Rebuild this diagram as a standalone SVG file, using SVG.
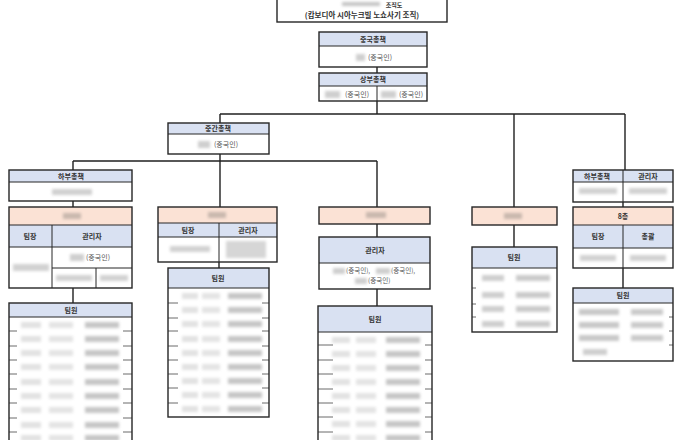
<svg xmlns="http://www.w3.org/2000/svg" xmlns:xlink="http://www.w3.org/1999/xlink" width="686" height="440" viewBox="0 0 686 440">
<style>
.bx{fill:none;stroke:#262626;stroke-width:1.4}
.bg{fill:#fff}
.hd{fill:#d9e1f2}
.pe{fill:#fbe2d5}
.ln{stroke:#262626;stroke-width:1}
.t{font-family:"Noto Sans CJK KR","Noto Sans",sans-serif;font-size:7px;font-weight:bold;fill:#333;text-anchor:middle}
.n{font-weight:normal;fill:#555}
.s{text-anchor:start;font-size:6.5px}
.tk{stroke:#444;stroke-width:0.8}
#connectors line{stroke:#1f1f1f;stroke-width:1.4}
</style>
<defs>
<filter id="bl" x="-30%" y="-100%" width="160%" height="300%"><feGaussianBlur stdDeviation="1.6"/></filter>
<g id="rowL" filter="url(#bl)"><rect x="12" y="-3" width="20" height="6" fill="#e2e2e2"/><rect x="40" y="-3" width="24" height="6" fill="#e4e4e4"/><rect x="76" y="-3" width="34" height="6" fill="#c6c6c6"/></g>
<g id="rowM" filter="url(#bl)"><rect x="14" y="-3" width="16" height="6" fill="#e2e2e2"/><rect x="34" y="-3" width="18" height="6" fill="#e4e4e4"/><rect x="60" y="-3" width="34" height="6" fill="#c6c6c6"/></g>
<g id="rowC" filter="url(#bl)"><rect x="14" y="-3" width="18" height="6" fill="#e2e2e2"/><rect x="38" y="-3" width="20" height="6" fill="#e4e4e4"/><rect x="68" y="-3" width="34" height="6" fill="#c6c6c6"/></g>
<g id="rowD" filter="url(#bl)"><rect x="10" y="-3" width="22" height="6" fill="#cfcfcf"/><rect x="44" y="-3" width="34" height="6" fill="#cbcbcb"/></g>
<g id="rowE" filter="url(#bl)"><rect x="6" y="-3" width="40" height="6" fill="#c8c8c8"/><rect x="58" y="-3" width="32" height="6" fill="#cbcbcb"/></g>
</defs>
<rect width="686" height="440" fill="#fff"/>

<g id="connectors">
<line x1="377" y1="67" x2="377" y2="73"/>
<line x1="377" y1="101" x2="377" y2="114"/>
<line x1="220" y1="114" x2="625" y2="114"/>
<line x1="220" y1="114" x2="220" y2="123"/>
<line x1="220" y1="154" x2="220" y2="207"/>
<line x1="73" y1="161" x2="377" y2="161"/>
<line x1="73" y1="161" x2="73" y2="170"/>
<line x1="377" y1="161" x2="377" y2="207"/>
<line x1="514" y1="114" x2="514" y2="207"/>
<line x1="625" y1="114" x2="625" y2="170"/>
<line x1="73" y1="201" x2="73" y2="207"/>
<line x1="73" y1="288" x2="73" y2="303"/>
<line x1="219" y1="262" x2="219" y2="268"/>
<line x1="377" y1="224" x2="377" y2="237"/>
<line x1="377" y1="289" x2="377" y2="306"/>
<line x1="514" y1="225" x2="514" y2="247"/>
<line x1="623" y1="202" x2="623" y2="207"/>
<line x1="623" y1="268" x2="623" y2="288"/>
</g>

<g id="title">
<rect class="bg" x="277" y="-5" width="170" height="27"/>
<rect x="342" y="2" width="38" height="4" fill="#c4c4c4" filter="url(#bl)"/>
<text class="t" x="394" y="7" style="font-size:6px">조직도</text>
<text class="t" x="362" y="18" style="font-size:7.5px">(캄보디아 시아누크빌 노쇼사기 조직)</text>
<rect class="bx" x="277" y="-5" width="170" height="27"/>
</g>

<g id="china">
<rect class="bg" x="319" y="32" width="108" height="35"/>
<rect class="hd" x="319" y="32" width="108" height="14"/>
<line class="ln" x1="319" y1="46" x2="427" y2="46"/>
<text class="t" x="373" y="42">중국총책</text>
<rect x="356" y="54" width="9" height="7" fill="#cfcfcf" filter="url(#bl)"/>
<text class="t n" x="380" y="60">(중국인)</text>
<rect class="bx" x="319" y="32" width="108" height="35"/>
</g>

<g id="upper">
<rect class="bg" x="319" y="73" width="108" height="28"/>
<rect class="hd" x="319" y="73" width="108" height="13"/>
<line class="ln" x1="319" y1="86" x2="427" y2="86"/>
<line class="ln" x1="377" y1="86" x2="377" y2="101"/>
<text class="t" x="373" y="82">상부총책</text>
<rect x="325" y="91" width="15" height="7" fill="#cfcfcf" filter="url(#bl)"/>
<text class="t n" x="357" y="97">(중국인)</text>
<rect x="381" y="91" width="15" height="7" fill="#cfcfcf" filter="url(#bl)"/>
<text class="t n" x="411" y="97">(중국인)</text>
<rect class="bx" x="319" y="73" width="108" height="28"/>
</g>

<g id="middle">
<rect class="bg" x="168" y="123" width="101" height="31"/>
<rect class="hd" x="168" y="123" width="101" height="11"/>
<line class="ln" x1="168" y1="134" x2="269" y2="134"/>
<text class="t" x="218" y="131">중간총책</text>
<rect x="198" y="141" width="12" height="7" fill="#cfcfcf" filter="url(#bl)"/>
<text class="t n" x="226" y="147">(중국인)</text>
<rect class="bx" x="168" y="123" width="101" height="31"/>
</g>

<g id="lower1">
<rect class="bg" x="9" y="170" width="123" height="31"/>
<rect class="hd" x="9" y="170" width="123" height="12"/>
<line class="ln" x1="9" y1="182" x2="132" y2="182"/>
<text class="t" x="71" y="179">하부총책</text>
<rect x="52" y="189" width="40" height="6" fill="#d0d0d0" filter="url(#bl)"/>
<rect class="bx" x="9" y="170" width="123" height="31"/>
</g>

<g id="team1">
<rect class="bg" x="9" y="207" width="123" height="81"/>
<rect class="pe" x="9" y="207" width="123" height="18"/>
<rect class="hd" x="9" y="225" width="123" height="22"/>
<line class="ln" x1="9" y1="225" x2="132" y2="225"/>
<line class="ln" x1="9" y1="247" x2="132" y2="247"/>
<line class="ln" x1="52" y1="225" x2="52" y2="288"/>
<line class="ln" x1="52" y1="268" x2="132" y2="268"/>
<line class="ln" x1="96" y1="268" x2="96" y2="288"/>
<rect x="63" y="213" width="18" height="6" fill="#c9b8ae" filter="url(#bl)"/>
<text class="t" x="30" y="239">팀장</text>
<text class="t" x="92" y="239">관리자</text>
<rect x="13" y="264" width="36" height="7" fill="#d2d2d2" filter="url(#bl)"/>
<rect x="70" y="254" width="14" height="7" fill="#cfcfcf" filter="url(#bl)"/>
<text class="t n" x="98" y="260">(중국인)</text>
<rect x="56" y="275" width="36" height="6" fill="#d2d2d2" filter="url(#bl)"/>
<rect x="100" y="275" width="28" height="6" fill="#d2d2d2" filter="url(#bl)"/>
<rect class="bx" x="9" y="207" width="123" height="81"/>
</g>

<g id="members1">
<rect class="bg" x="9" y="303" width="123" height="150"/>
<rect class="hd" x="9" y="303" width="123" height="14"/>
<line class="ln" x1="9" y1="317" x2="132" y2="317"/>
<text class="t" x="71" y="313">팀원</text>
<use xlink:href="#rowL" x="9" y="325"/><use xlink:href="#rowL" x="9" y="339"/><use xlink:href="#rowL" x="9" y="353"/><use xlink:href="#rowL" x="9" y="367"/><use xlink:href="#rowL" x="9" y="382"/><use xlink:href="#rowL" x="9" y="396"/><use xlink:href="#rowL" x="9" y="410"/><use xlink:href="#rowL" x="9" y="425"/><use xlink:href="#rowL" x="9" y="438"/>
<g class="tk">
<line x1="9" y1="331" x2="17" y2="331"/><line x1="9" y1="346" x2="17" y2="346"/><line x1="9" y1="360" x2="17" y2="360"/><line x1="9" y1="374" x2="17" y2="374"/><line x1="9" y1="389" x2="17" y2="389"/><line x1="9" y1="403" x2="17" y2="403"/><line x1="9" y1="418" x2="17" y2="418"/><line x1="9" y1="432" x2="17" y2="432"/>
<line x1="123" y1="331" x2="132" y2="331"/><line x1="123" y1="346" x2="132" y2="346"/><line x1="123" y1="360" x2="132" y2="360"/><line x1="123" y1="374" x2="132" y2="374"/><line x1="123" y1="389" x2="132" y2="389"/><line x1="123" y1="403" x2="132" y2="403"/><line x1="123" y1="418" x2="132" y2="418"/><line x1="123" y1="432" x2="132" y2="432"/>
</g>
<rect class="bx" x="9" y="303" width="123" height="150"/>
</g>

<g id="team2">
<rect class="bg" x="158" y="207" width="119" height="55"/>
<rect class="pe" x="158" y="207" width="119" height="16"/>
<rect class="hd" x="158" y="223" width="119" height="14"/>
<line class="ln" x1="158" y1="223" x2="277" y2="223"/>
<line class="ln" x1="158" y1="237" x2="277" y2="237"/>
<line class="ln" x1="219" y1="223" x2="219" y2="262"/>
<rect x="208" y="212" width="18" height="6" fill="#c9b8ae" filter="url(#bl)"/>
<text class="t" x="188" y="233">팀장</text>
<text class="t" x="248" y="233">관리자</text>
<rect x="170" y="246" width="40" height="6" fill="#d2d2d2" filter="url(#bl)"/>
<rect x="226" y="241" width="40" height="17" fill="#d6d6d6" filter="url(#bl)"/>
<rect class="bx" x="158" y="207" width="119" height="55"/>
</g>

<g id="members2">
<rect class="bg" x="168" y="268" width="101" height="149"/>
<rect class="hd" x="168" y="268" width="101" height="20"/>
<line class="ln" x1="168" y1="288" x2="269" y2="288"/>
<text class="t" x="218" y="281">팀원</text>
<use xlink:href="#rowM" x="168" y="296"/><use xlink:href="#rowM" x="168" y="310"/><use xlink:href="#rowM" x="168" y="324"/><use xlink:href="#rowM" x="168" y="339"/><use xlink:href="#rowM" x="168" y="353"/><use xlink:href="#rowM" x="168" y="367"/><use xlink:href="#rowM" x="168" y="381"/><use xlink:href="#rowM" x="168" y="395"/><use xlink:href="#rowM" x="168" y="409"/>
<g class="tk">
<line x1="168" y1="303" x2="178" y2="303"/><line x1="168" y1="318" x2="178" y2="318"/><line x1="168" y1="331" x2="178" y2="331"/><line x1="168" y1="346" x2="178" y2="346"/><line x1="168" y1="360" x2="178" y2="360"/><line x1="168" y1="374" x2="178" y2="374"/><line x1="168" y1="388" x2="178" y2="388"/><line x1="168" y1="403" x2="178" y2="403"/>
<line x1="262" y1="303" x2="269" y2="303"/><line x1="262" y1="318" x2="269" y2="318"/><line x1="262" y1="331" x2="269" y2="331"/><line x1="262" y1="346" x2="269" y2="346"/><line x1="262" y1="360" x2="269" y2="360"/><line x1="262" y1="374" x2="269" y2="374"/><line x1="262" y1="388" x2="269" y2="388"/><line x1="262" y1="403" x2="269" y2="403"/>
</g>
<rect class="bx" x="168" y="268" width="101" height="149"/>
</g>

<g id="team3">
<rect class="pe" x="319" y="207" width="111" height="17"/>
<rect x="366" y="212" width="20" height="6" fill="#c9b8ae" filter="url(#bl)"/>
<rect class="bx" x="319" y="207" width="111" height="17"/>
</g>

<g id="manager3">
<rect class="bg" x="319" y="237" width="111" height="52"/>
<rect class="hd" x="319" y="237" width="111" height="26"/>
<line class="ln" x1="319" y1="263" x2="430" y2="263"/>
<text class="t" x="375" y="253">관리자</text>
<rect x="333" y="268" width="12" height="6" fill="#cfcfcf" filter="url(#bl)"/>
<text class="t n s" x="346" y="273">(중국인),</text>
<rect x="376" y="268" width="14" height="6" fill="#cfcfcf" filter="url(#bl)"/>
<text class="t n s" x="391" y="273">(중국인),</text>
<rect x="355" y="278" width="12" height="6" fill="#cfcfcf" filter="url(#bl)"/>
<text class="t n s" x="368" y="283">(중국인)</text>
<rect class="bx" x="319" y="237" width="111" height="52"/>
</g>

<g id="members3">
<rect class="bg" x="318" y="306" width="114" height="150"/>
<rect class="hd" x="318" y="306" width="114" height="26"/>
<line class="ln" x1="318" y1="332" x2="432" y2="332"/>
<text class="t" x="375" y="322">팀원</text>
<use xlink:href="#rowC" x="318" y="340"/><use xlink:href="#rowC" x="318" y="354"/><use xlink:href="#rowC" x="318" y="368"/><use xlink:href="#rowC" x="318" y="382"/><use xlink:href="#rowC" x="318" y="396"/><use xlink:href="#rowC" x="318" y="410"/><use xlink:href="#rowC" x="318" y="424"/><use xlink:href="#rowC" x="318" y="438"/>
<g class="tk">
<line x1="318" y1="345" x2="333" y2="345"/><line x1="318" y1="360" x2="333" y2="360"/><line x1="318" y1="374" x2="333" y2="374"/><line x1="318" y1="389" x2="333" y2="389"/><line x1="318" y1="403" x2="333" y2="403"/><line x1="318" y1="417" x2="333" y2="417"/><line x1="318" y1="432" x2="333" y2="432"/>
<line x1="425" y1="345" x2="432" y2="345"/><line x1="425" y1="360" x2="432" y2="360"/><line x1="425" y1="374" x2="432" y2="374"/><line x1="425" y1="389" x2="432" y2="389"/><line x1="425" y1="403" x2="432" y2="403"/><line x1="425" y1="417" x2="432" y2="417"/><line x1="425" y1="432" x2="432" y2="432"/>
</g>
<rect class="bx" x="318" y="306" width="114" height="150"/>
</g>

<g id="team4">
<rect class="pe" x="472" y="207" width="85" height="18"/>
<rect x="504" y="213" width="18" height="6" fill="#c9b8ae" filter="url(#bl)"/>
<rect class="bx" x="472" y="207" width="85" height="18"/>
</g>

<g id="members4">
<rect class="bg" x="472" y="247" width="85" height="85"/>
<rect class="hd" x="472" y="247" width="85" height="21"/>
<line class="ln" x1="472" y1="268" x2="557" y2="268"/>
<text class="t" x="514" y="260">팀원</text>
<use xlink:href="#rowD" x="472" y="278"/><use xlink:href="#rowD" x="472" y="295"/><use xlink:href="#rowD" x="472" y="309"/><use xlink:href="#rowD" x="472" y="324"/>
<g class="tk"><line x1="472" y1="288" x2="476" y2="288"/><line x1="472" y1="304" x2="476" y2="304"/><line x1="472" y1="317" x2="476" y2="317"/></g>
<rect class="bx" x="472" y="247" width="85" height="85"/>
</g>

<g id="lower5">
<rect class="bg" x="573" y="170" width="100" height="32"/>
<rect class="hd" x="573" y="170" width="100" height="12"/>
<line class="ln" x1="573" y1="182" x2="673" y2="182"/>
<line class="ln" x1="623" y1="170" x2="623" y2="202"/>
<text class="t" x="597" y="179">하부총책</text>
<text class="t" x="648" y="179">관리자</text>
<rect x="579" y="188" width="38" height="6" fill="#d2d2d2" filter="url(#bl)"/>
<rect x="629" y="188" width="38" height="6" fill="#d2d2d2" filter="url(#bl)"/>
<rect class="bx" x="573" y="170" width="100" height="32"/>
</g>

<g id="team5">
<rect class="bg" x="573" y="207" width="100" height="61"/>
<rect class="pe" x="573" y="207" width="100" height="18"/>
<rect class="hd" x="573" y="225" width="100" height="23"/>
<line class="ln" x1="573" y1="225" x2="673" y2="225"/>
<line class="ln" x1="573" y1="248" x2="673" y2="248"/>
<line class="ln" x1="623" y1="225" x2="623" y2="268"/>
<text class="t" x="623" y="219">8층</text>
<text class="t" x="598" y="239">팀장</text>
<text class="t" x="648" y="239">총괄</text>
<rect x="580" y="255" width="36" height="6" fill="#d2d2d2" filter="url(#bl)"/>
<rect x="630" y="255" width="36" height="6" fill="#d2d2d2" filter="url(#bl)"/>
<rect class="bx" x="573" y="207" width="100" height="61"/>
</g>

<g id="members5">
<rect class="bg" x="573" y="288" width="100" height="73"/>
<rect class="hd" x="573" y="288" width="100" height="15"/>
<line class="ln" x1="573" y1="303" x2="673" y2="303"/>
<text class="t" x="623" y="298">팀원</text>
<use xlink:href="#rowE" x="573" y="312"/><use xlink:href="#rowE" x="573" y="325"/><use xlink:href="#rowE" x="573" y="338"/>
<rect x="583" y="349" width="24" height="6" fill="#cfcfcf" filter="url(#bl)"/>
<g class="tk"><line x1="669" y1="317" x2="673" y2="317"/><line x1="669" y1="331" x2="673" y2="331"/><line x1="669" y1="345" x2="673" y2="345"/></g>
<rect class="bx" x="573" y="288" width="100" height="73"/>
</g>
</svg>
